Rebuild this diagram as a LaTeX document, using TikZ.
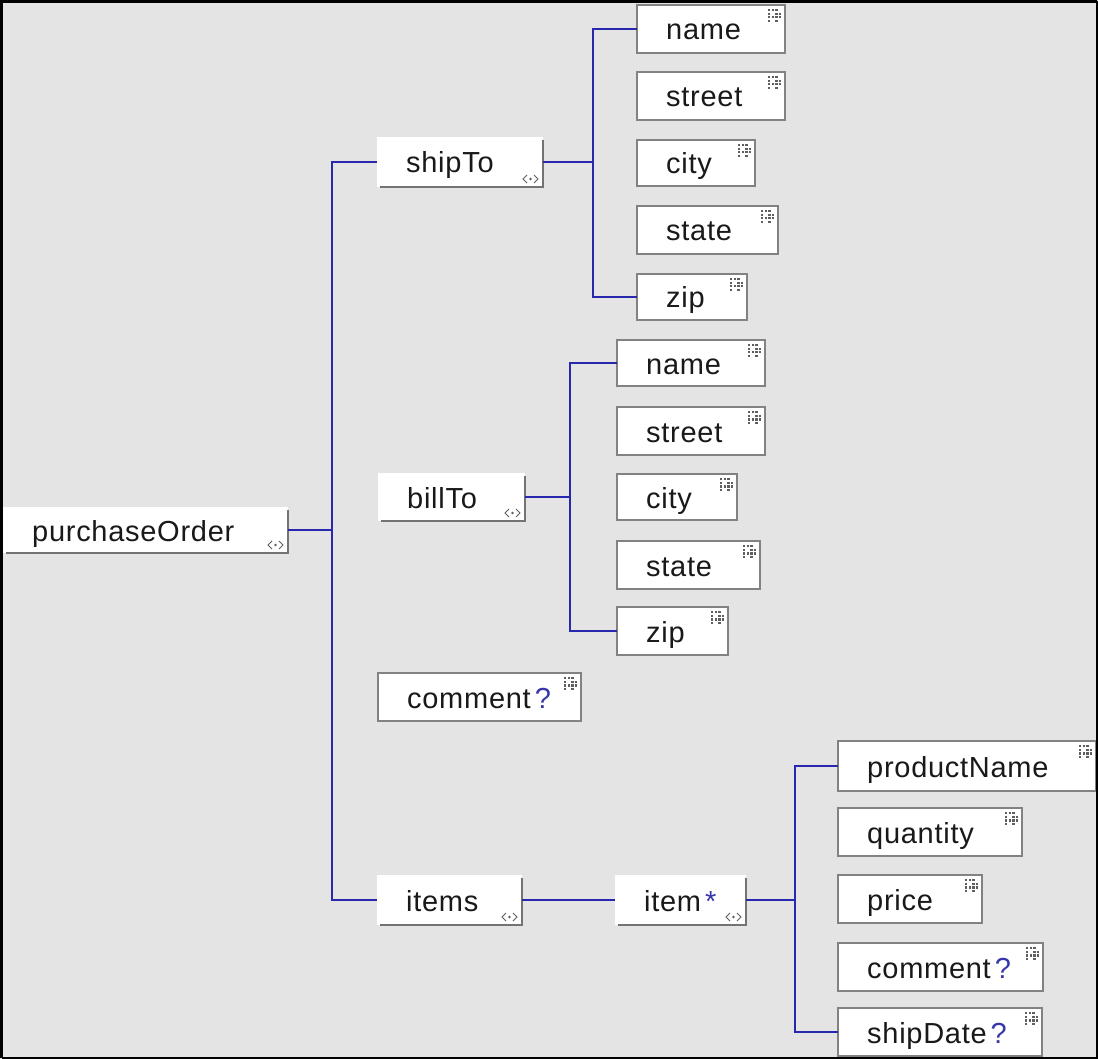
\documentclass[tikz,border=0pt]{standalone}
\usepackage{fontspec}
\setmainfont{Liberation Sans}[LetterSpace=2.5]
\definecolor{bgcol}{RGB}{228,228,228}
\definecolor{conncol}{RGB}{40,40,175}
\definecolor{qcol}{RGB}{55,55,170}
\definecolor{bordercol}{RGB}{130,130,130}
\definecolor{shadowcol}{RGB}{115,115,115}
\definecolor{txtcol}{RGB}{25,25,25}
\definecolor{iconcol}{RGB}{95,95,95}
\tikzset{
  sbox/.style={draw=bordercol, line width=1.5pt, fill=white, inner sep=0pt, outer sep=0pt, rectangle},
  cbox/.style={fill=white, inner sep=0pt, outer sep=0pt, rectangle},
  cshadow/.style={draw=shadowcol, line width=1.6pt},
  lbl/.style={anchor=base west, inner sep=0pt, text=txtcol, font=\fontsize{29}{31}\selectfont},
  conn/.style={draw=conncol, line width=2.2pt},
  icondot/.style={fill=iconcol},
  iconline/.style={draw=iconcol, line width=1pt},
}
\newcommand\simicon[1]{%
  \begin{scope}[shift={(#1.north east)}]
    \foreach \c/\r in {0/0,1/0,2/0,0/1,2/1,3/1,0/2,1/2,2/2,3/2,0/3,2/3}
      \fill[icondot] ({-17+3.6*\c},{4+3.6*\r}) rectangle ++(2.3,2.3);
  \end{scope}}
\newcommand\cplxicon[1]{%
  \begin{scope}[shift={(#1.south east)}]
    \draw[iconline] (-16,-12) -- (-20,-8) -- (-16,-4);
    \draw[iconline] (-9,-12) -- (-5,-8) -- (-9,-4);
    \fill[icondot] (-12.5,-8) circle (1.3);
  \end{scope}}
% simple element: name, x, y, width, height, text
\newcommand\sel[6]{%
  \node[sbox, anchor=north west, minimum width=#4, minimum height=#5] (#1) at (#2,#3) {};
  \node[lbl] (#1-t) at ([xshift=29pt,yshift=-11pt]#1.west) {#6};
  \simicon{#1}}
% complex element
\newcommand\cel[6]{%
  \node[cbox, anchor=north west, minimum width=#4, minimum height=#5] (#1) at (#2,#3) {};
  \draw[cshadow] ([yshift=-3pt]#1.north east) -- (#1.south east) -- ([xshift=3pt]#1.south west);
  \node[lbl] (#1-t) at ([xshift=29pt,yshift=-11pt]#1.west) {#6};
  \cplxicon{#1}}
\newcommand\qm{\hspace{4pt}\textcolor{qcol}{?}}
\begin{document}
\begin{tikzpicture}[x=1pt,y=-1pt]
  \useasboundingbox (0,0) rectangle (1098,1059);
  \fill[bgcol] (0,0) rectangle (1098,1059);
  % complex elements
  \cel{po}{3}{507}{285}{46}{purchaseOrder}
  \cel{shipTo}{377}{137}{166}{50}{shipTo}
  \cel{billTo}{378}{473}{147}{48}{billTo}
  \cel{items}{377}{875}{145}{50}{items}
  \cel{item}{615}{875}{131}{50}{item\hspace{4pt}\textcolor{qcol}{*}}
  % shipTo children
  \sel{name1}{637}{5}{148}{48}{name}
  \sel{street1}{637}{72}{148}{48}{street}
  \sel{city1}{637}{140}{118}{46}{city}
  \sel{state1}{637}{206}{141}{48}{state}
  \sel{zip1}{637}{274}{110}{46}{zip}
  % billTo children
  \sel{name2}{617}{340}{148}{46}{name}
  \sel{street2}{617}{407}{148}{48}{street}
  \sel{city2}{617}{474}{120}{46}{city}
  \sel{state2}{617}{541}{143}{48}{state}
  \sel{zip2}{617}{607}{111}{48}{zip}
  % comment
  \sel{comment1}{378}{673}{203}{48}{comment\qm}
  % item children
  \sel{productName}{838}{741}{258}{50}{productName}
  \sel{quantity}{838}{808}{184}{48}{quantity}
  \sel{price}{838}{875}{144}{48}{price}
  \sel{comment2}{838}{943}{205}{48}{comment\qm}
  \sel{shipDate}{838}{1008}{204}{48}{shipDate\qm}
  % connectors
  \draw[conn] (po.east) -- ++(44,0);
  \draw[conn] (shipTo.west) -- ++(-45,0) |- (items.west);
  \draw[conn] (shipTo.east) -- ++(50,0);
  \draw[conn] (name1.west) -- ++(-44,0) |- (zip1.west);
  \draw[conn] (billTo.east) -- ++(45,0);
  \draw[conn] (name2.west) -- ++(-47,0) |- (zip2.west);
  \draw[conn] (items.east) -- (item.west);
  \draw[conn] (item.east) -- ++(49,0);
  \draw[conn] (productName.west) -- ++(-43,0) |- (shipDate.west);
  % frame
  \draw[black, line width=1.5pt] (1097,1.5) -- (1097,1058) -- (1.5,1058);
  \draw[black, line width=3pt] (1.5,1058) -- (1.5,1.5) -- (1097,1.5);
\end{tikzpicture}
\end{document}
